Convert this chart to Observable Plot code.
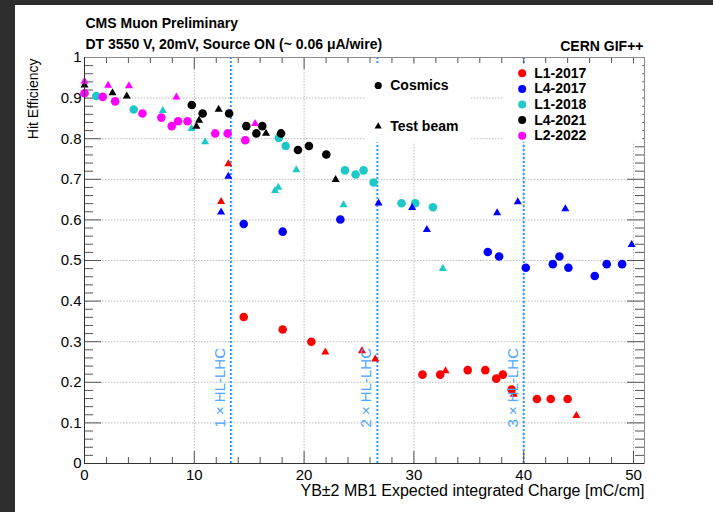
<!DOCTYPE html>
<html>
<head>
<meta charset="utf-8">
<script src="https://cdn.jsdelivr.net/npm/d3@7"></script>
<script src="https://cdn.jsdelivr.net/npm/@observablehq/plot@0.6"></script>
<style>
  html, body { margin: 0; padding: 0; background: #2d2d2d; width: 713px; height: 512px; overflow: hidden; }
  #panel { position: absolute; left: 15px; top: 5px; width: 698px; height: 507px; background: #ffffff; }
</style>
</head>
<body>
<div id="panel"></div>
<script>
// DT chamber hit efficiency versus integrated charge at GIF++

const seriesNames = ["L1-2017", "L4-2017", "L1-2018", "L4-2021", "L2-2022"];
const seriesColors = ["#ff0000", "#0000ff", "#1fc8c8", "#000000", "#ff00ff"];
const sourceNames = ["Cosmics", "Test beam"];

// [integrated charge (mC/cm), hit efficiency]
const L1_2017_cosmics = [[14.5, 0.361], [18.05, 0.330], [20.66, 0.300], [30.78, 0.219], [32.39, 0.219], [34.9, 0.230], [36.5, 0.230], [37.5, 0.209], [38.1, 0.219], [38.9, 0.182], [41.2, 0.159], [42.46, 0.159], [44.0, 0.159]];
const L1_2017_testbeam = [[12.44, 0.645], [13.1, 0.738], [21.93, 0.274], [25.27, 0.277], [26.48, 0.257], [32.88, 0.228], [39.1, 0.170], [44.8, 0.118]];

const L4_2017_cosmics = [[14.5, 0.590], [18.05, 0.571], [23.3, 0.601], [36.73, 0.521], [37.76, 0.510], [40.19, 0.482], [42.65, 0.491], [43.25, 0.510], [44.07, 0.482], [46.47, 0.462], [47.56, 0.491], [48.96, 0.491]];
const L4_2017_testbeam = [[12.44, 0.619], [13.1, 0.707], [26.78, 0.641], [29.84, 0.630], [31.18, 0.576], [37.58, 0.617], [39.46, 0.644], [43.79, 0.627], [49.83, 0.539]];

const L1_2018_cosmics = [[1.07, 0.905], [4.48, 0.872], [17.7, 0.802], [18.32, 0.782], [23.72, 0.722], [24.69, 0.712], [25.42, 0.722], [26.33, 0.692], [28.87, 0.641], [30.12, 0.641], [31.73, 0.631]];
const L1_2018_testbeam = [[7.13, 0.869], [9.74, 0.825], [10.98, 0.792], [17.35, 0.672], [17.65, 0.680], [19.29, 0.723], [23.59, 0.637], [32.63, 0.480]];

const L4_2021_cosmics = [[9.77, 0.883], [10.76, 0.862], [13.17, 0.862], [14.74, 0.831], [15.65, 0.813], [16.19, 0.831], [17.9, 0.813], [19.44, 0.772], [20.44, 0.782], [22.02, 0.761]];
const L4_2021_testbeam = [[0, 0.932], [2.55, 0.913], [3.85, 0.905], [10.19, 0.830], [10.43, 0.845], [12.22, 0.872], [16.53, 0.813], [22.87, 0.699]];

const L2_2022_cosmics = [[0, 0.912], [1.66, 0.903], [2.79, 0.892], [5.28, 0.862], [7.0, 0.852], [7.94, 0.831], [8.52, 0.843], [9.38, 0.843], [11.9, 0.813], [13.04, 0.813], [14.64, 0.796]];
const L2_2022_testbeam = [[0, 0.941], [2.15, 0.931], [4.05, 0.930], [8.37, 0.902], [15.54, 0.837]];

// HL-LHC equivalent charge markers
const hlLhcCharge = [13.33, 26.67, 40];
const hlLhcLabels = ["1 × HL-LHC", "2 × HL-LHC", "3 × HL-LHC"];

// axis tick labels
const xTickLabels = [0, 10, 20, 30, 40, 50];
const yTickLabels = [0, 0.1, 0.2, 0.3, 0.4, 0.5, 0.6, 0.7, 0.8, 0.9, 1];

const groups = [
  ["L1-2017", "Cosmics", L1_2017_cosmics], ["L1-2017", "Test beam", L1_2017_testbeam],
  ["L4-2017", "Cosmics", L4_2017_cosmics], ["L4-2017", "Test beam", L4_2017_testbeam],
  ["L1-2018", "Cosmics", L1_2018_cosmics], ["L1-2018", "Test beam", L1_2018_testbeam],
  ["L4-2021", "Cosmics", L4_2021_cosmics], ["L4-2021", "Test beam", L4_2021_testbeam],
  ["L2-2022", "Cosmics", L2_2022_cosmics], ["L2-2022", "Test beam", L2_2022_testbeam]
];
const points = groups.flatMap(([series, source, pts]) =>
  pts.map(([charge, eff]) => ({series, source, charge, eff})));

// layout
const W = 698, H = 507;
const mL = 69, mR = 69, mT = 52, mB = 49;
const plotW = W - mL - mR, plotH = H - mT - mB;
const font = "'Liberation Sans', Arial, Helvetica, sans-serif";
const tickColor = "#555";

const xMinor = d3.range(0, 51, 2).filter(d => d % 10 !== 0);
const yMinor = d3.range(0, 51).filter(i => i % 5 !== 0).map(i => i / 50);
const xGrid = xTickLabels.filter(d => d > 0);
const yGrid = yTickLabels.filter(d => d > 0 && d < 1);

// legend placement (data units)
const legendBoxes = [
  {x1: 25.6, x2: 35.15, y1: 0.79, y2: 0.984},
  {x1: 38.16, x2: 50.85, y1: 0.79, y2: 0.984}
];
const srcLegendX = 26.75, srcLegendY = [0.931, 0.83];
const serLegendX = 39.86, serLegendTop = 0.961, serLegendStep = 0.0384;

const chart = Plot.plot({
  width: W, height: H,
  marginLeft: mL, marginRight: mR, marginTop: mT, marginBottom: mB,
  style: {fontFamily: font, fontSize: "15px", background: "transparent", overflow: "visible"},
  x: {domain: [0, 51], label: null},
  y: {domain: [0, 1], label: null},
  color: {domain: seriesNames, range: seriesColors},
  marks: [
    // dotted grid
    Plot.ruleX(xGrid, {stroke: "#bdbdbd", strokeDasharray: "1.5,1.5"}),
    Plot.ruleY(yGrid, {stroke: "#bdbdbd", strokeDasharray: "1.5,1.5"}),

    // HL-LHC reference lines
    Plot.ruleX(hlLhcCharge, {stroke: "#3399ff", strokeWidth: 2, strokeDasharray: "2,2"}),

    // inward ticks: bottom / top
    Plot.ruleX(xTickLabels, {insetTop: plotH - 12, stroke: tickColor}),
    Plot.ruleX(xMinor, {insetTop: plotH - 6, stroke: tickColor}),
    Plot.ruleX(xTickLabels, {insetBottom: plotH - 12, stroke: tickColor}),
    Plot.ruleX(xMinor, {insetBottom: plotH - 6, stroke: tickColor}),
    // inward ticks: left / right
    Plot.ruleY(yTickLabels, {insetRight: plotW - 17, stroke: tickColor}),
    Plot.ruleY(yMinor, {insetRight: plotW - 9, stroke: tickColor}),
    Plot.ruleY(yTickLabels, {insetLeft: plotW - 17, stroke: tickColor}),
    Plot.ruleY(yMinor, {insetLeft: plotW - 9, stroke: tickColor}),

    // measurements
    Plot.dot(points.filter(d => d.source === "Cosmics"), {x: "charge", y: "eff", fill: "series", r: 4.3, symbol: "circle"}),
    Plot.dot(points.filter(d => d.source === "Test beam"), {x: "charge", y: "eff", fill: "series", r: 3, symbol: "triangle"}),

    // HL-LHC labels
    Plot.text(hlLhcCharge, {x: d => d, y: 0.1865, text: (d, i) => hlLhcLabels[i], rotate: -90, dx: -11, lineAnchor: "middle", fill: "#4da6ff", fontSize: 15}),

    // legend backgrounds
    Plot.rect(legendBoxes, {x1: "x1", x2: "x2", y1: "y1", y2: "y2", fill: "white"}),

    // frame and axis lines
    Plot.frame({stroke: "#8a8a8a"}),
    Plot.ruleX([0], {stroke: "#333"}),
    Plot.ruleY([0], {stroke: "#333"}),

    // tick labels
    Plot.axisX(xTickLabels, {tickSize: 0, tickPadding: 6, fontSize: 15, tickFormat: d => String(d), label: null}),
    Plot.axisY(yTickLabels, {tickSize: 0, tickPadding: 3, fontSize: 15, label: null,
      tickFormat: d => (d === 0 ? "0" : d === 1 ? "1" : d.toFixed(1))}),

    // source legend
    Plot.dot([sourceNames[0]], {x: srcLegendX, y: srcLegendY[0], r: 3.6, fill: "black", symbol: "circle"}),
    Plot.dot([sourceNames[1]], {x: srcLegendX, y: srcLegendY[1], r: 2.7, fill: "black", symbol: "triangle"}),
    Plot.text(sourceNames, {x: srcLegendX, y: (d, i) => srcLegendY[i], text: d => d, dx: 12, textAnchor: "start", lineAnchor: "middle", fontWeight: "bold", fontSize: 14}),

    // series legend
    Plot.dot(seriesNames, {x: serLegendX, y: (d, i) => serLegendTop - i * serLegendStep, fill: d => d, r: 4}),
    Plot.text(seriesNames, {x: serLegendX, y: (d, i) => serLegendTop - i * serLegendStep, text: d => d, dx: 12, textAnchor: "start", lineAnchor: "middle", fontWeight: "bold", fontSize: 14}),

    // titles and axis titles
    Plot.text(["CMS Muon Preliminary"], {frameAnchor: "top-left", text: d => d, textAnchor: "start", lineAnchor: "middle", dx: 1, dy: -33.5, fontWeight: "bold", fontSize: 14}),
    Plot.text(["DT 3550 V, 20mV, Source ON (~ 0.06 μA/wire)"], {frameAnchor: "top-left", text: d => d, textAnchor: "start", lineAnchor: "middle", dx: 1, dy: -13, fontWeight: "bold", fontSize: 14}),
    Plot.text(["CERN GIF++"], {frameAnchor: "top-right", text: d => d, textAnchor: "end", lineAnchor: "middle", dx: -1, dy: -11, fontWeight: "bold", fontSize: 14}),
    Plot.text(["Hit Efficiency"], {frameAnchor: "top-left", text: d => d, textAnchor: "end", lineAnchor: "middle", rotate: -90, dx: -51, dy: 1, fontSize: 14}),
    Plot.text(["YB±2 MB1 Expected integrated Charge [mC/cm]"], {frameAnchor: "bottom-right", text: d => d, textAnchor: "end", lineAnchor: "middle", dx: 0, dy: 27, fontSize: 16})
  ]
});

document.getElementById("panel").appendChild(chart);
</script>
</body>
</html>
